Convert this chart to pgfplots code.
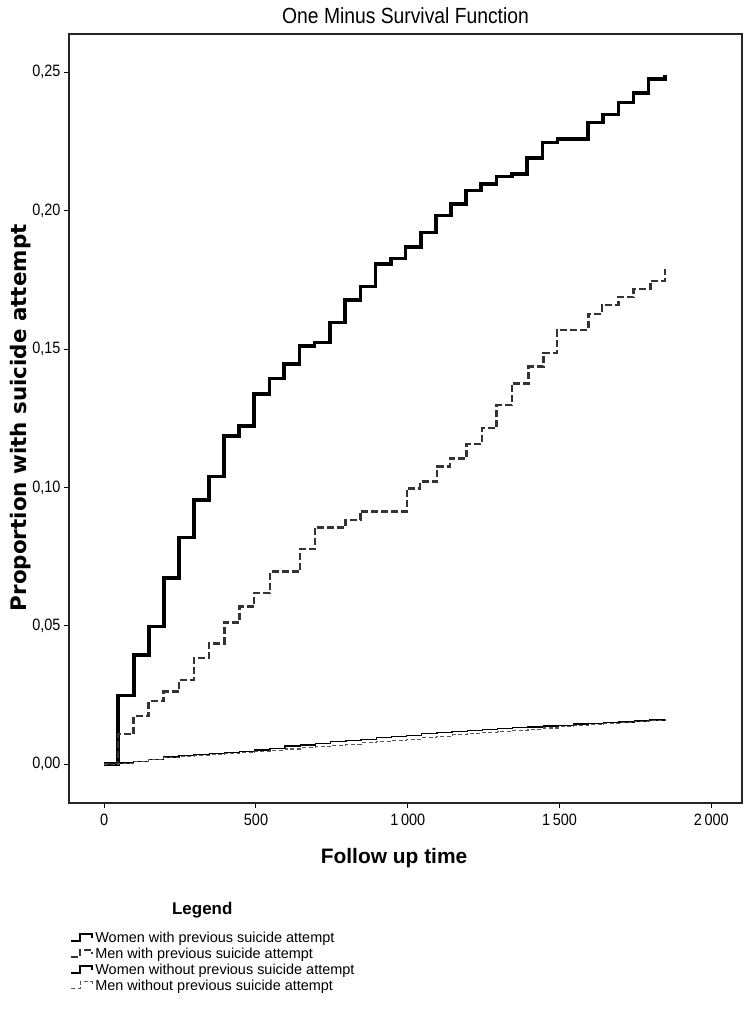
\documentclass[border=0pt]{standalone}
\usepackage{fontspec}
\setmainfont{Liberation Sans}
\newfontfamily\dejavu{DejaVu Sans}
\newfontfamily\narrow{Liberation Sans}[FakeStretch=0.88]
\usepackage{pgfplots}
\pgfplotsset{compat=1.18}
\pgfplotsset{
  steplegend/.style={legend image code/.code={\draw[##1,#1] (0bp,-3bp) -- (9bp,-3bp) -- (9bp,4bp) -- (21bp,4bp) -- (21bp,0bp);}},
  steplegend/.default={},
}
\begin{document}
\begin{tikzpicture}
\begin{axis}[
  at={(69bp,231bp)}, anchor=south west,
  scale only axis, width=673bp, height=769bp,
  xmin=-116, xmax=2101, ymin=-0.014, ymax=0.2638,
  clip=false,
  axis line style={line width=1.2bp, black!85},
  xtick={0,500,1000,1500,2000},
  ytick={0,0.05,0.1,0.15,0.2,0.25},
  xtick pos=left, ytick pos=left,
  tick align=outside,
  major tick length=5bp,
  tick style={line width=1bp, black},
  /pgf/number format/assume math mode=true,
  ticklabel style={font=\narrow\fontsize{16.5}{18}\selectfont},
  xticklabel style={/pgf/number format/1000 sep={\,}, yshift=-3bp},
  yticklabel style={/pgf/number format/.cd, fixed, fixed zerofill, precision=2, use comma},
  title={One Minus Survival Function},
  title style={font=\narrow\fontsize{22}{24}\selectfont, at={(axis description cs:0.5,1)}, anchor=south, yshift=1bp},
  xlabel={Follow up time},
  xlabel style={font=\fontsize{21}{24}\selectfont\bfseries, at={(axis description cs:0.483,-0.0715)}, anchor=center},
  ylabel={Proportion with suicide attempt},
  ylabel style={font=\dejavu\bfseries\fontsize{21.5}{24}\selectfont, at={(axis description cs:-0.072,0.501)}, anchor=center},
  legend style={at={(axis description cs:0.001,-0.165)}, anchor=north west, draw=none, fill=none,
    font=\fontsize{14.5}{16}\selectfont, row sep=0pt, inner sep=0pt},
  legend cell align=left,
  every axis plot/.append style={mark=none},
]
\addplot[const plot, line width=3.5bp, black, steplegend={line width=2.5bp}]
coordinates {
(0,0) (46,0.0248) (98,0.0395) (148,0.0497) (197,0.0672) (247,0.0819) (296,0.0955)
(345,0.1039) (395,0.1186) (444,0.1222) (493,0.1337) (544,0.1394) (593,0.1446)
(643,0.1511) (692,0.1523) (744,0.1595) (793,0.1677) (845,0.1725) (894,0.1807)
(945,0.1827) (993,0.1868) (1043,0.1920) (1093,0.1983) (1143,0.2024) (1192,0.2072)
(1242,0.2096) (1293,0.2123) (1343,0.2133) (1392,0.2190) (1444,0.2246) (1493,0.2258)
(1593,0.2318) (1643,0.2348) (1694,0.2390) (1744,0.2424) (1793,0.2475) (1848,0.2475) (1848,0.2490)
};
\addlegendentry{Women with previous suicide attempt}
\addplot[const plot, line width=2.5bp, black!80, dash pattern=on 7bp off 3bp, steplegend={line width=2bp}]
coordinates {
(0,0) (46,0.0110) (97,0.0175) (146,0.0228) (196,0.0262) (246,0.0305) (296,0.0383)
(345,0.0437) (396,0.0512) (446,0.0569) (493,0.0618) (546,0.0696) (645,0.0778)
(695,0.0856) (795,0.0883) (844,0.0913) (997,0.0997) (1041,0.1021) (1096,0.1075)
(1139,0.1105) (1194,0.1157) (1244,0.1214) (1293,0.1298) (1343,0.1376) (1398,0.1436)
(1447,0.1485) (1491,0.1569) (1595,0.1627) (1639,0.1659) (1694,0.1687) (1744,0.1716)
(1799,0.1746) (1848,0.1746) (1848,0.1790)
};
\addlegendentry{Men with previous suicide attempt}
\addplot[const plot, line width=1.3bp, black, steplegend]
coordinates {
(0,0) (46,0.0004) (96,0.0010) (146,0.0018) (196,0.0026) (246,0.0031) (296,0.0035)
(346,0.0039) (396,0.0042) (446,0.0047) (496,0.0052) (546,0.0058) (596,0.0066)
(646,0.0070) (696,0.0075) (746,0.0081) (796,0.0085) (846,0.0090) (896,0.0097)
(946,0.0101) (996,0.0105) (1046,0.0112) (1096,0.0115) (1146,0.0119) (1196,0.0123)
(1246,0.0126) (1296,0.0129) (1346,0.0132) (1396,0.0135) (1446,0.0138) (1496,0.0141)
(1546,0.0145) (1596,0.0148) (1646,0.0150) (1696,0.0153) (1746,0.0156) (1796,0.0160)
(1848,0.0163)
};
\addlegendentry{Women without previous suicide attempt}
\addplot[const plot, line width=1.1bp, black!65, dash pattern=on 4bp off 2.5bp, steplegend]
coordinates {
(0,0) (46,0.0003) (96,0.0009) (146,0.0016) (196,0.0023) (246,0.0028) (296,0.0032)
(346,0.0035) (396,0.0038) (446,0.0042) (496,0.0046) (546,0.0050) (596,0.0055)
(646,0.0060) (696,0.0063) (746,0.0068) (796,0.0072) (846,0.0077) (896,0.0083)
(946,0.0087) (996,0.0091) (1046,0.0096) (1096,0.0101) (1146,0.0106) (1196,0.0111)
(1246,0.0115) (1296,0.0119) (1346,0.0123) (1396,0.0127) (1446,0.0131) (1496,0.0135)
(1546,0.0139) (1596,0.0143) (1646,0.0147) (1696,0.0151) (1746,0.0155) (1796,0.0159)
(1848,0.0162)
};
\addlegendentry{Men without previous suicide attempt}
\node[font=\fontsize{17}{19}\selectfont\bfseries] at (axis description cs:0.198,-0.139) {Legend};
\end{axis}
\pgfresetboundingbox
\path[use as bounding box] (0,0) rectangle (752bp,1034bp);
\end{tikzpicture}
\end{document}
